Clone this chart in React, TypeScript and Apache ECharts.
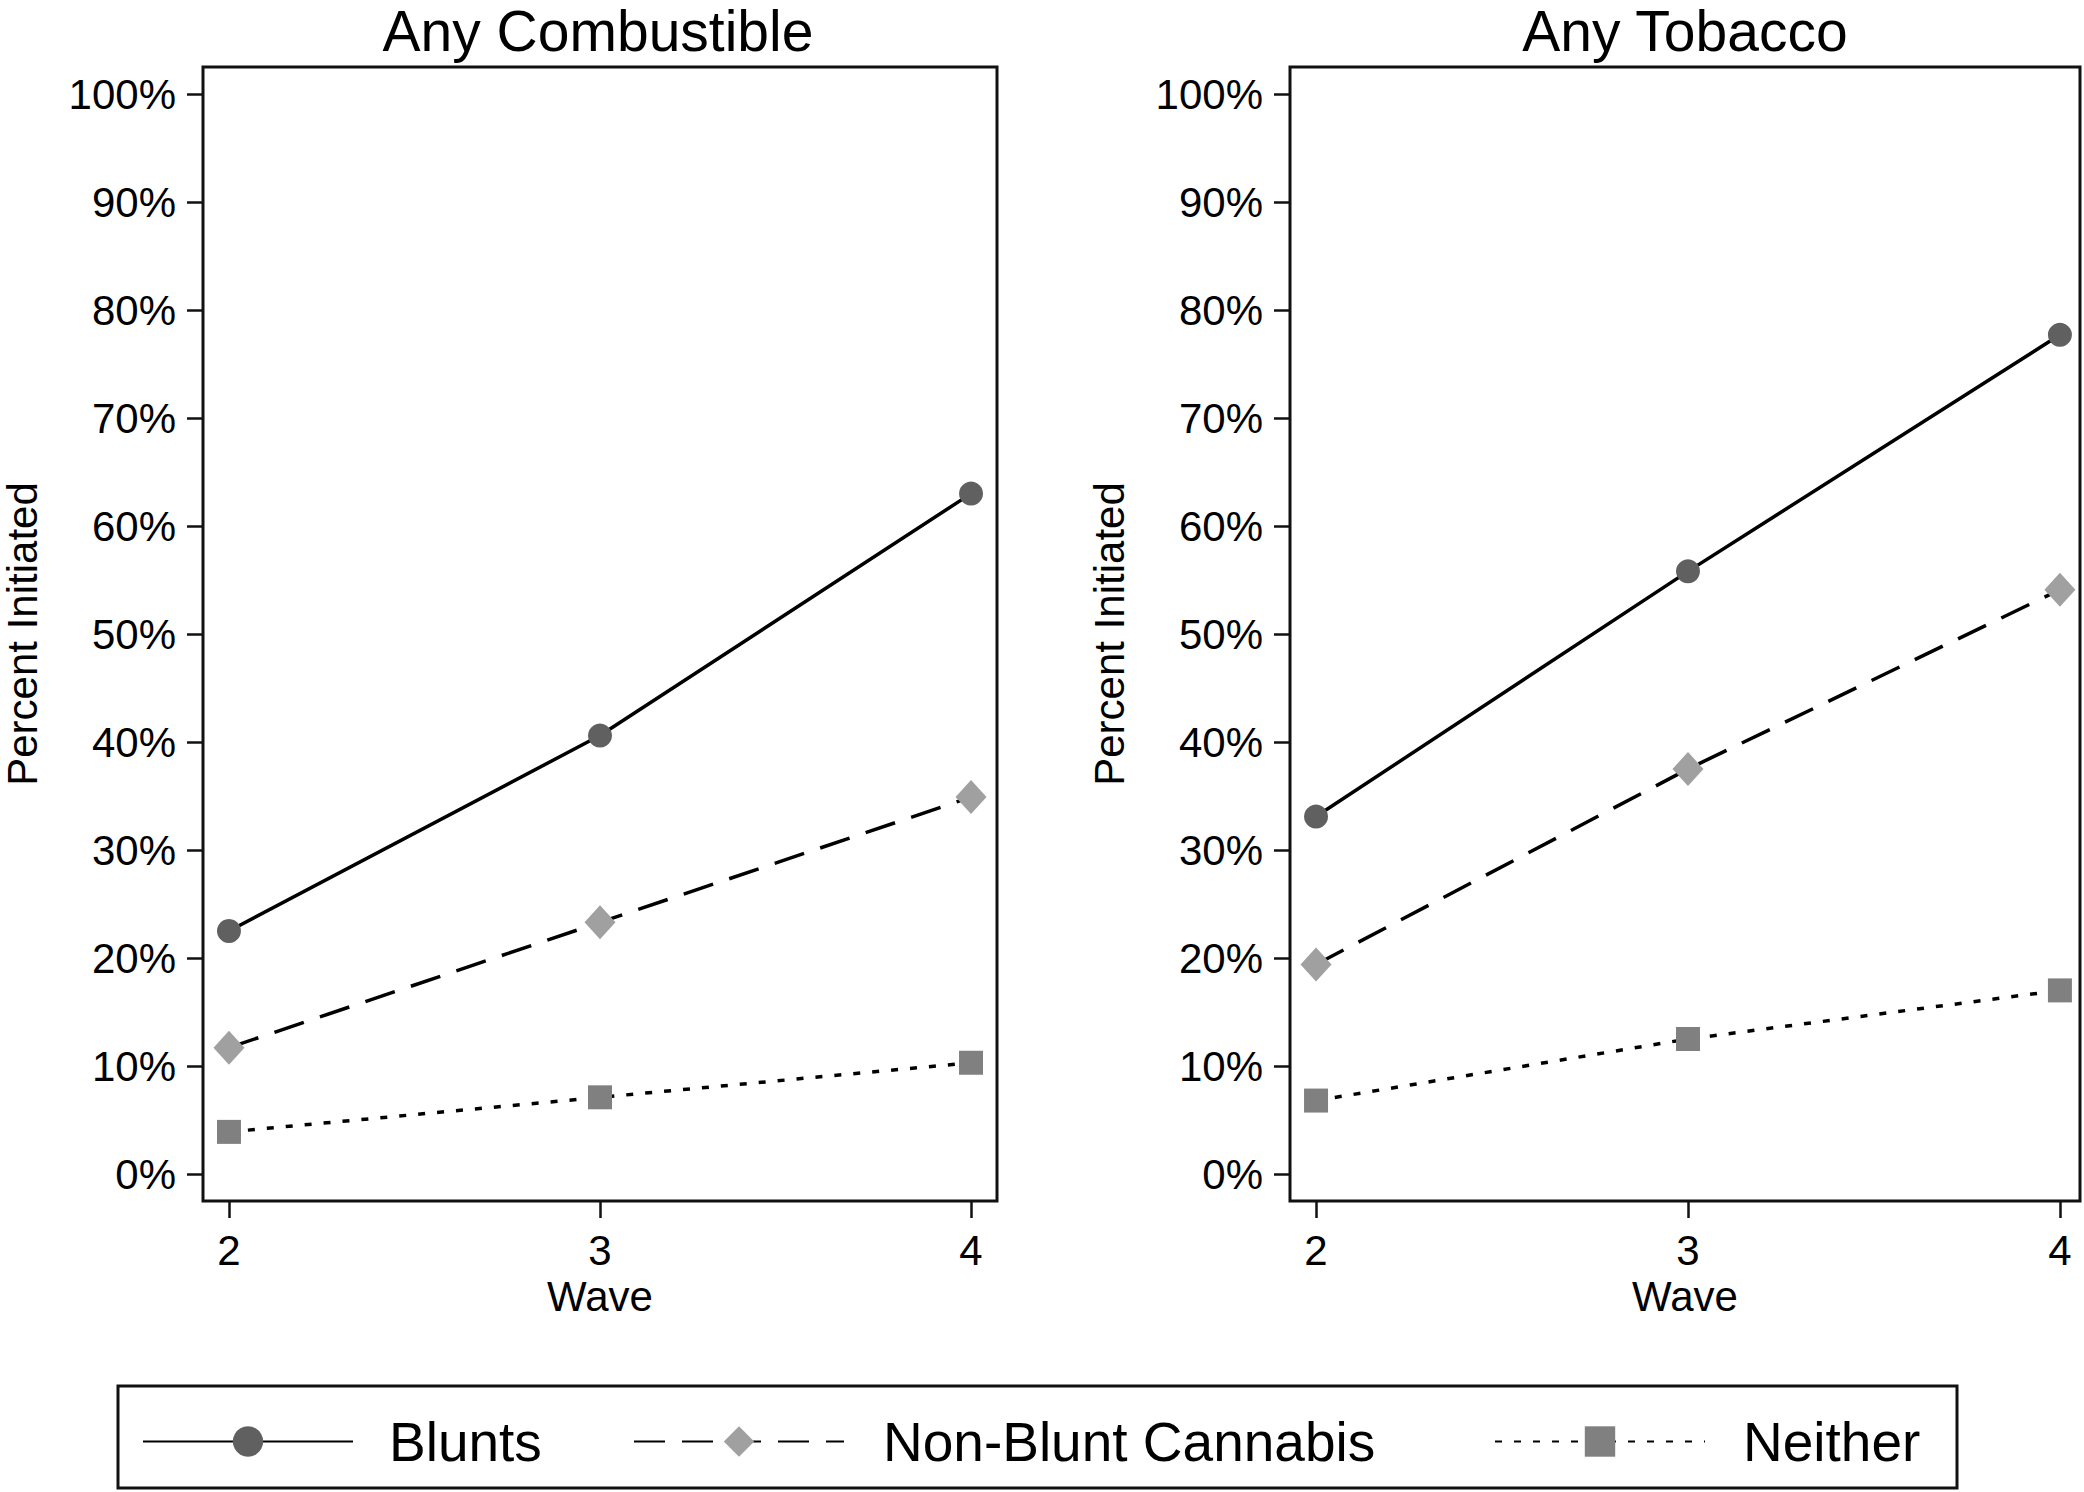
import React, { useEffect, useRef } from "react";
import * as echarts from "echarts";

// ---- data ----
const waves = [2, 3, 4];
const yTicks = [0, 10, 20, 30, 40, 50, 60, 70, 80, 90, 100];
const panelTitles = ["Any Combustible", "Any Tobacco"];
const seriesNames = ["Blunts", "Non-Blunt Cannabis", "Neither"];

const combBlunts = [22.5, 40.6, 63.0];
const combNonBlunt = [11.7, 23.3, 34.9];
const combNeither = [3.9, 7.1, 10.3];

const tobBlunts = [33.1, 55.8, 77.7];
const tobNonBlunt = [19.4, 37.5, 54.1];
const tobNeither = [6.8, 12.5, 17.0];

const FONT = "'Liberation Sans', Arial, Helvetica, sans-serif";

const styles = [
  { symbol: "circle", size: 24, color: "#606060", line: "solid" as any },
  { symbol: "diamond", size: [31, 34], color: "#a0a0a0", line: [31, 17] as any },
  { symbol: "rect", size: 24, color: "#808080", line: [7, 12] as any },
];

function pairs(vals: number[]) {
  return waves.map((w, i) => [w, vals[i]]);
}

export default function App() {
  const ref = useRef<HTMLDivElement>(null);
  useEffect(() => {
    if (!ref.current) return;
    const chart = echarts.init(ref.current, null, { renderer: "svg" });

    const grids = [
      { left: 200, top: 67, width: 797, height: 1134 },
      { left: 1290, top: 67, width: 790, height: 1134 },
    ];
    const xRanges = [
      [1.93, 4.07],
      [1.93, 4.054],
    ];

    const panels = [
      [combBlunts, combNonBlunt, combNeither],
      [tobBlunts, tobNonBlunt, tobNeither],
    ];

    const series: any[] = [];
    panels.forEach((p, gi) => {
      p.forEach((vals, si) => {
        const st = styles[si];
        series.push({
          type: "line",
          name: seriesNames[si],
          xAxisIndex: gi,
          yAxisIndex: gi,
          data: pairs(vals),
          symbol: st.symbol,
          symbolSize: st.size,
          showSymbol: true,
          itemStyle: { color: st.color, borderWidth: 0 },
          lineStyle: { color: "#000", width: 3.5, type: st.line },
          emphasis: { disabled: true },
          z: 3 - si,
        });
      });
    });

    const legendLefts = [142, 633, 1494];
    const legendPads = [31, 34, 33];
    const legends = seriesNames.map((n, i) => ({
      data: [n],
      left: legendLefts[i],
      top: 1414,
      padding: 0,
      itemWidth: 210,
      itemHeight: 38,
      selectedMode: false,
      textStyle: {
        fontFamily: FONT,
        fontSize: 55,
        color: "#000",
        lineHeight: 38,
        padding: [0, 0, 0, legendPads[i]],
      },
    }));

    const option: any = {
      animation: false,
      backgroundColor: "#fff",
      grid: grids.map((g) => ({
        ...g,
        show: true,
        borderColor: "#111",
        borderWidth: 3,
        backgroundColor: "transparent",
        containLabel: false,
      })),
      xAxis: grids.map((_, gi) => ({
        type: "value",
        gridIndex: gi,
        min: xRanges[gi][0],
        max: xRanges[gi][1],
        name: "Wave",
        nameLocation: "middle",
        nameGap: 72,
        nameTextStyle: { fontFamily: FONT, fontSize: 42, color: "#000" },
        axisLine: { show: false, onZero: false },
        splitLine: { show: false },
        axisTick: {
          show: true,
          inside: false,
          length: 17,
          lineStyle: { color: "#111", width: 2.5 },
          customValues: waves,
        },
        axisLabel: {
          show: true,
          margin: 28,
          fontFamily: FONT,
          fontSize: 42,
          color: "#000",
          customValues: waves,
        },
      })),
      yAxis: grids.map((_, gi) => ({
        type: "value",
        gridIndex: gi,
        min: -2.5,
        max: 102.5,
        name: "Percent Initiated",
        nameLocation: "middle",
        nameGap: 160,
        nameTextStyle: { fontFamily: FONT, fontSize: 42, color: "#000" },
        axisLine: { show: false, onZero: false },
        splitLine: { show: false },
        axisTick: {
          show: true,
          inside: false,
          length: 16,
          lineStyle: { color: "#111", width: 2.5 },
          customValues: yTicks,
        },
        axisLabel: {
          show: true,
          margin: 27,
          fontFamily: FONT,
          fontSize: 42,
          color: "#000",
          customValues: yTicks,
          formatter: (v: number) => `${Math.round(v)}%`,
        },
      })),
      legend: legends,
      graphic: [
        {
          type: "text",
          x: 598,
          y: 2,
          style: {
            text: panelTitles[0],
            font: `57px ${FONT}`,
            fill: "#000",
            textAlign: "center",
            textVerticalAlign: "top",
          },
        },
        {
          type: "text",
          x: 1685,
          y: 2,
          style: {
            text: panelTitles[1],
            font: `57px ${FONT}`,
            fill: "#000",
            textAlign: "center",
            textVerticalAlign: "top",
          },
        },
        {
          type: "rect",
          shape: { x: 118, y: 1386, width: 1839, height: 102 },
          style: { fill: "none", stroke: "#111", lineWidth: 3 },
          silent: true,
        },
      ],
      series,
    };

    chart.setOption(option);
    return () => chart.dispose();
  }, []);

  return (
    <div
      ref={ref}
      style={{ position: "absolute", left: 0, top: 0, width: 2084, height: 1492 }}
    />
  );
}
